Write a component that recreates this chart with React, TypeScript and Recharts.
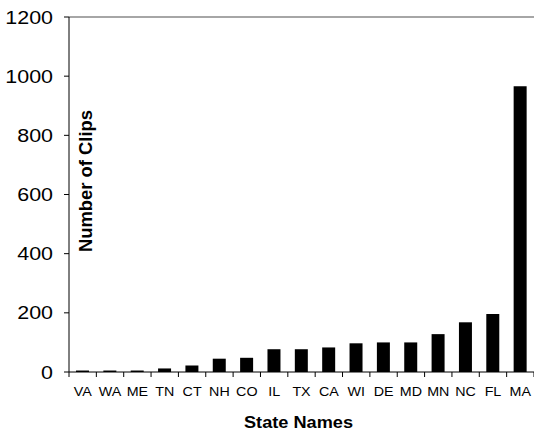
import { BarChart, Bar, XAxis, YAxis, ReferenceLine } from "recharts";

const states = ["VA", "WA", "ME", "TN", "CT", "NH", "CO", "IL", "TX", "CA", "WI", "DE", "MD", "MN", "NC", "FL", "MA"];
const clips = [5, 5, 5, 12, 22, 45, 48, 77, 77, 83, 97, 100, 100, 128, 168, 196, 966];
const yTicks = [0, 200, 400, 600, 800, 1000, 1200];

const data = states.map((state, i) => ({ state, clips: clips[i] }));

const W = 534;
const H = 432;
const LEFT = 69;
const BAND = (W - LEFT) / states.length;
const FONT = "'Liberation Sans', Arial, sans-serif";

const StateTick = (props: any) => {
  const { x, y, payload, index } = props;
  const half = BAND / 2;
  const last = index === states.length - 1;
  return (
    <g>
      <line x1={x - half} x2={x - half} y1={y} y2={y + 5} stroke="#000" />
      {last && <line x1={x + half} x2={x + half} y1={y} y2={y + 5} stroke="#000" />}
      <text
        transform={`translate(${x},${y + 24}) scale(1.1,1)`}
        textAnchor="middle"
        fontSize={13}
        fontFamily={FONT}
        fill="#000"
      >
        {payload.value}
      </text>
    </g>
  );
};

const ValueTick = (props: any) => {
  const { x, y, payload } = props;
  return (
    <text
      transform={`translate(${x},${y}) scale(1.16,1)`}
      textAnchor="end"
      dy="0.36em"
      fontSize={18.5}
      fontFamily={FONT}
      fill="#000"
    >
      {payload.value}
    </text>
  );
};

const XTitle = (props: any) => {
  const { viewBox } = props;
  return (
    <text
      x={viewBox.x + viewBox.width / 2 - 3}
      y={viewBox.y + 56}
      textAnchor="middle"
      fontSize={16.8}
      fontWeight="bold"
      fontFamily={FONT}
      fill="#000"
      textLength={109}
      lengthAdjust="spacingAndGlyphs"
    >
      State Names
    </text>
  );
};

const YTitle = (props: any) => {
  const { viewBox } = props;
  const cx = viewBox.x + viewBox.width + 23;
  const cy = 181;
  return (
    <text
      x={cx}
      y={cy}
      transform={`rotate(-90 ${cx} ${cy})`}
      textAnchor="middle"
      fontSize={18}
      fontWeight="bold"
      fontFamily={FONT}
      fill="#000"
      textLength={142}
      lengthAdjust="spacingAndGlyphs"
    >
      Number of Clips
    </text>
  );
};

export default function App() {
  return (
    <div style={{ position: "absolute", left: 0, top: 0, background: "#fff" }}>
      <BarChart width={W} height={H} data={data} margin={{ top: 17, right: 0, bottom: 0, left: 0 }}>
        <XAxis
          dataKey="state"
          height={60}
          interval={0}
          axisLine={{ stroke: "#000" }}
          tickLine={false}
          tickSize={0}
          tickMargin={0}
          tick={<StateTick />}
          label={<XTitle />}
        />
        <YAxis
          width={LEFT}
          domain={[0, 1200]}
          ticks={yTicks}
          interval={0}
          tickSize={5}
          tickMargin={11}
          axisLine={{ stroke: "#000" }}
          tickLine={{ stroke: "#000" }}
          tick={<ValueTick />}
          label={<YTitle />}
        />
        <ReferenceLine y={1200} stroke="#888" strokeWidth={1.5} />
        <Bar dataKey="clips" fill="#000" barSize={13} isAnimationActive={false} />
      </BarChart>
    </div>
  );
}
